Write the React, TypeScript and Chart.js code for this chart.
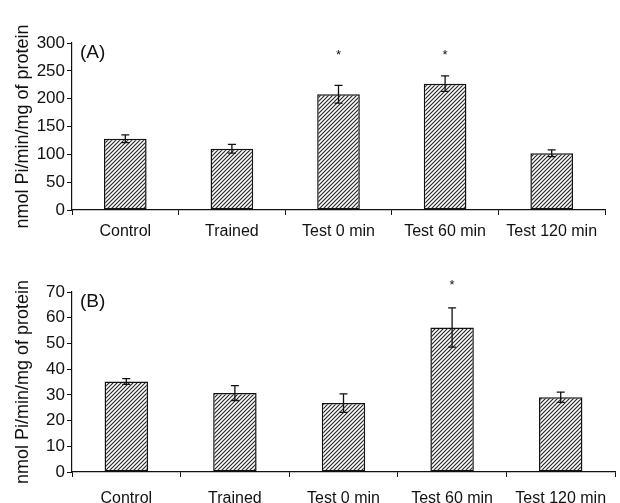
import React, { useEffect, useRef } from 'react';
import { Chart, registerables } from 'chart.js';
Chart.register(...registerables);

const categories = ['Control', 'Trained', 'Test 0 min', 'Test 60 min', 'Test 120 min'];

const valuesA = [128, 110, 208, 227, 102];
const errorsA = [7, 8, 16, 14, 6];
const starsA = [false, false, true, true, false];
const starLevelA = 283;
const yTicksA = [0, 50, 100, 150, 200, 250, 300];

const valuesB = [35.2, 30.7, 26.8, 56.2, 29.1];
const errorsB = [1.1, 2.9, 3.6, 7.6, 2.0];
const starsB = [false, false, false, true, false];
const starLevelB = 73.6;
const yTicksB = [0, 10, 20, 30, 40, 50, 60, 70];

const yTitle = 'nmol Pi/min/mg of protein';
const FONT = "'Liberation Sans', Arial, Helvetica, sans-serif";
const INK = '#111111';

function makeHatch(): CanvasPattern | string {
  const p = 4;
  const c = document.createElement('canvas');
  c.width = p;
  c.height = p;
  const g = c.getContext('2d');
  if (!g) return '#fff';
  g.fillStyle = '#ffffff';
  g.fillRect(0, 0, p, p);
  g.strokeStyle = '#262626';
  g.lineWidth = 1.15;
  g.beginPath();
  g.moveTo(-1, p + 1);
  g.lineTo(p + 1, -1);
  g.moveTo(-1, 1);
  g.lineTo(1, -1);
  g.moveTo(p - 1, p + 1);
  g.lineTo(p + 1, p - 1);
  g.stroke();
  const pat = g.createPattern(c, 'repeat');
  return pat || '#fff';
}

interface PanelCfg {
  label: string;
  values: number[];
  errors: number[];
  stars: boolean[];
  starLevel: number;
  yTicks: number[];
  padTop: number;
  padRight: number;
  xHeight: number;
  xPad: number;
}

function makeChart(canvas: HTMLCanvasElement, cfg: PanelCfg) {
  const annot = {
    id: 'annot-' + cfg.label,
    afterDatasetsDraw(chart: any) {
      const ctx = chart.ctx;
      const ys = chart.scales.y;
      const meta = chart.getDatasetMeta(0);
      ctx.save();
      ctx.strokeStyle = INK;
      ctx.lineWidth = 1.3;
      meta.data.forEach((bar: any, i: number) => {
        const x = bar.x;
        const yt = ys.getPixelForValue(cfg.values[i] + cfg.errors[i]);
        const yb = ys.getPixelForValue(cfg.values[i] - cfg.errors[i]);
        ctx.beginPath();
        ctx.moveTo(x, yt);
        ctx.lineTo(x, yb);
        ctx.moveTo(x - 4, yt);
        ctx.lineTo(x + 4, yt);
        ctx.moveTo(x - 4, yb);
        ctx.lineTo(x + 4, yb);
        ctx.stroke();
        if (cfg.stars[i]) {
          ctx.fillStyle = INK;
          ctx.font = `13px ${FONT}`;
          ctx.textAlign = 'center';
          ctx.textBaseline = 'middle';
          ctx.fillText('*', x, ys.getPixelForValue(cfg.starLevel) + 3);
        }
      });
      ctx.fillStyle = INK;
      ctx.font = `19px ${FONT}`;
      ctx.textAlign = 'left';
      ctx.textBaseline = 'middle';
      ctx.fillText(`(${cfg.label})`, chart.chartArea.left + 8, chart.chartArea.top + 10);
      ctx.restore();
    },
  };

  const yMin = cfg.yTicks[0];
  const yMax = cfg.yTicks[cfg.yTicks.length - 1];
  const yStep = cfg.yTicks[1] - cfg.yTicks[0];

  return new Chart(canvas, {
    type: 'bar',
    data: {
      labels: categories,
      datasets: [
        {
          data: cfg.values,
          backgroundColor: makeHatch() as any,
          borderColor: INK,
          borderWidth: 1.5,
          borderSkipped: false,
          categoryPercentage: 1,
          barPercentage: 0.4,
        },
      ],
    },
    options: {
      animation: false,
      responsive: false,
      maintainAspectRatio: false,
      layout: { padding: { top: cfg.padTop, right: cfg.padRight, left: 0, bottom: 0 } },
      plugins: { legend: { display: false }, tooltip: { enabled: false }, title: { display: false } },
      scales: {
        x: {
          grid: { offset: true, drawOnChartArea: false, drawTicks: true, tickLength: 5, color: INK, lineWidth: 1 },
          border: { display: true, color: INK, width: 1.2 },
          ticks: { color: INK, font: { family: FONT, size: 16 }, padding: cfg.xPad, maxRotation: 0, autoSkip: false },
          afterFit: (s: any) => {
            s.height = cfg.xHeight;
          },
        },
        y: {
          min: yMin,
          max: yMax,
          grid: { drawOnChartArea: false, drawTicks: true, tickLength: 5, color: INK, lineWidth: 1 },
          border: { display: true, color: INK, width: 1.2 },
          ticks: { stepSize: yStep, color: INK, font: { family: FONT, size: 17 }, padding: 2 },
          title: { display: true, text: yTitle, color: INK, font: { family: FONT, size: 18 }, padding: { top: 12, bottom: 0 } },
          afterFit: (s: any) => {
            s.width = 72;
          },
        },
      },
    },
    plugins: [annot],
  });
}

export default function App() {
  const refA = useRef<HTMLCanvasElement>(null);
  const refB = useRef<HTMLCanvasElement>(null);

  useEffect(() => {
    const a = makeChart(refA.current!, {
      label: 'A',
      values: valuesA,
      errors: errorsA,
      stars: starsA,
      starLevel: starLevelA,
      yTicks: yTicksA,
      padTop: 43,
      padRight: 15,
      xHeight: 42,
      xPad: 7,
    });
    const b = makeChart(refB.current!, {
      label: 'B',
      values: valuesB,
      errors: errorsB,
      stars: starsB,
      starLevel: starLevelB,
      yTicks: yTicksB,
      padTop: 40,
      padRight: 5,
      xHeight: 31,
      xPad: 12,
    });
    return () => {
      a.destroy();
      b.destroy();
    };
  }, []);

  return (
    <div style={{ position: 'fixed', left: 0, top: 0, width: 620, height: 503, background: '#fff', overflow: 'hidden' }}>
      <canvas ref={refA} width={620} height={252} style={{ position: 'absolute', left: 0, top: 0, width: 620, height: 252 }} />
      <canvas ref={refB} width={620} height={251} style={{ position: 'absolute', left: 0, top: 252, width: 620, height: 251 }} />
    </div>
  );
}
